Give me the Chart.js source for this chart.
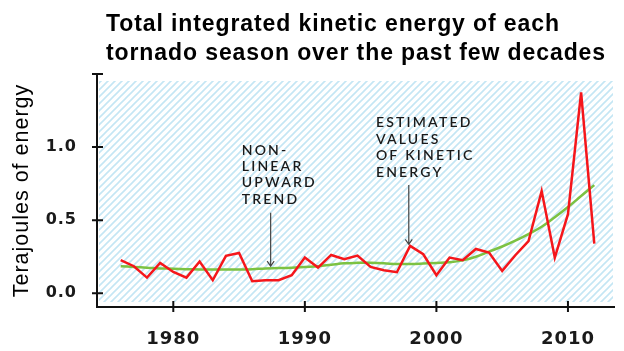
<!DOCTYPE html>
<html>
<head>
<meta charset="utf-8">
<script src="https://cdn.jsdelivr.net/npm/chart.js@4"></script>
<style>
  body { margin: 0; background: #fff; }
</style>
</head>
<body>
<canvas id="chart" width="624" height="351"></canvas>
<script>
const years = [1976, 1977, 1978, 1979, 1980, 1981, 1982, 1983, 1984, 1985, 1986, 1987,
    1988, 1989, 1990, 1991, 1992, 1993, 1994, 1995, 1996, 1997, 1998, 1999, 2000,
    2001, 2002, 2003, 2004, 2005, 2006, 2007, 2008, 2009, 2010, 2011, 2012]
const energy = [0.226, 0.185, 0.107, 0.208, 0.146, 0.107, 0.217, 0.089, 0.256, 0.276,
    0.082, 0.089, 0.089, 0.123, 0.244, 0.176, 0.262, 0.233, 0.258, 0.18, 0.158, 0.144,
    0.324, 0.267, 0.123, 0.244, 0.226, 0.303, 0.279, 0.153, 0.26, 0.356, 0.699, 0.244,
    0.541, 1.375, 0.34]
const trend = [0.185, 0.18, 0.175, 0.17, 0.168, 0.165, 0.163, 0.162, 0.162, 0.163,
    0.165, 0.17, 0.172, 0.175, 0.18, 0.185, 0.195, 0.205, 0.208, 0.208, 0.205, 0.2,
    0.2, 0.203, 0.207, 0.212, 0.225, 0.25, 0.285, 0.32, 0.36, 0.405, 0.455, 0.52,
    0.59, 0.665, 0.74]
const xTicks = [1980, 1990, 2000, 2010]
const yTicks = [0, 0.5, 1.0, 1.5]
const titleLines = ['Total integrated kinetic energy of each',
    'tornado season over the past few decades']
const yTitle = 'Terajoules of energy'

// annotation text: anchor (year, value) of the first line, arrow from/to
const notes = [
    { lines: ['NON-', 'LINEAR', 'UPWARD', 'TREND'], x: 1985.2, y: 0.98, arrowX: 1987.4, arrowFrom: 0.55, arrowTo: 0.185 },
    { lines: ['ESTIMATED', 'VALUES', 'OF KINETIC', 'ENERGY'], x: 1995.4, y: 1.165, arrowX: 1997.9, arrowFrom: 0.74, arrowTo: 0.335 }
]

const RED = '#f5161b'
const GREEN = '#7cc242'
const AXIS = '#111'

function hatchPattern(ctx) {
    const c = document.createElement('canvas');
    c.width = 7; c.height = 7;
    const p = c.getContext('2d');
    p.fillStyle = '#fff';
    p.fillRect(0, 0, 7, 7);
    p.strokeStyle = '#c4e6f4';
    p.lineWidth = 1.6;
    p.beginPath();
    p.moveTo(-1, 8); p.lineTo(8, -1);
    p.moveTo(-4, 4); p.lineTo(4, -4);
    p.moveTo(3, 11); p.lineTo(11, 3);
    p.stroke();
    return ctx.createPattern(c, 'repeat');
}

const backdrop = {
    id: 'backdrop',
    beforeDraw(chart) {
        // wider letter spacing for the axis labels
        chart.ctx.letterSpacing = '1px';
    },
    beforeDatasetsDraw(chart) {
        const { ctx, chartArea: a } = chart;
        ctx.save();
        ctx.fillStyle = hatchPattern(ctx);
        ctx.fillRect(a.left + 2, a.top + 7, a.right - a.left - 3, a.bottom - a.top - 12);
        ctx.restore();
    }
}

const extras = {
    id: 'extras',
    afterDraw(chart) {
        const { ctx, chartArea: a } = chart;
        const xs = chart.scales.x, ys = chart.scales.y;
        ctx.save();

        // tick marks crossing the axes
        ctx.strokeStyle = AXIS;
        ctx.lineWidth = 2;
        ctx.beginPath();
        yTicks.forEach(v => {
            const y = ys.getPixelForValue(v);
            ctx.moveTo(a.left - 5, y); ctx.lineTo(a.left + 6, y);
        });
        xTicks.forEach(v => {
            const x = xs.getPixelForValue(v);
            ctx.moveTo(x, a.bottom - 6); ctx.lineTo(x, a.bottom + 5);
        });
        ctx.stroke();

        // title
        ctx.fillStyle = '#000';
        ctx.font = 'bold 23px "Liberation Sans", Arial, sans-serif';
        ctx.letterSpacing = '0.9px';
        ctx.textBaseline = 'alphabetic';
        ctx.textAlign = 'left';
        titleLines.forEach((t, i) => ctx.fillText(t, 106, 31 + i * 29));

        // annotations
        ctx.font = '600 14px Lato, sans-serif';
        ctx.letterSpacing = '2.2px';
        ctx.textBaseline = 'middle';
        ctx.fillStyle = '#1a1a1a';
        notes.forEach(n => {
            const x0 = xs.getPixelForValue(n.x);
            const y0 = ys.getPixelForValue(n.y);
            n.lines.forEach((t, i) => ctx.fillText(t, x0, y0 + i * 16.4));
            const ax = xs.getPixelForValue(n.arrowX);
            const y1 = ys.getPixelForValue(n.arrowFrom);
            const y2 = ys.getPixelForValue(n.arrowTo);
            ctx.strokeStyle = '#444';
            ctx.lineWidth = 1.2;
            ctx.beginPath();
            ctx.moveTo(ax, y1); ctx.lineTo(ax, y2);
            ctx.moveTo(ax - 3.5, y2 - 5); ctx.lineTo(ax, y2); ctx.lineTo(ax + 3.5, y2 - 5);
            ctx.stroke();
        });
        ctx.restore();
    }
}

const chart = new Chart(document.getElementById('chart'), {
    type: 'line',
    data: {
        labels: years,
        datasets: [{
            label: 'Estimated kinetic energy',
            data: years.map((yr, i) => ({ x: yr, y: energy[i] })),
            borderColor: RED,
            borderWidth: 2.5,
            pointRadius: 0,
            tension: 0
        }, {
            label: 'Trend',
            data: years.map((yr, i) => ({ x: yr, y: trend[i] })),
            borderColor: GREEN,
            borderWidth: 2.5,
            pointRadius: 0,
            tension: 0.4
        }]
    },
    options: {
        responsive: false,
        animation: false,
        layout: { padding: { top: 74, right: 10 } },
        scales: {
            x: {
                type: 'linear',
                min: 1974.2,
                max: 2013.5,
                afterBuildTicks: s => { s.ticks = xTicks.map(v => ({ value: v })) },
                afterFit: s => { s.height = 44 },
                grid: { display: false },
                border: { color: AXIS, width: 2 },
                ticks: {
                    color: '#1a1a1a',
                    font: { family: 'DejaVu Sans', size: 18, weight: 'bold' },
                    padding: 14,
                    maxRotation: 0,
                    callback: v => String(v)
                }
            },
            y: {
                min: -0.094,
                max: 1.5,
                afterBuildTicks: s => { s.ticks = yTicks.map(v => ({ value: v })) },
                afterFit: s => { s.width = 97 },
                grid: { display: false },
                border: { color: AXIS, width: 2 },
                title: {
                    display: true,
                    text: yTitle,
                    color: '#000',
                    font: { family: 'Liberation Sans', size: 21.5 },
                    padding: { top: 9, bottom: 0 }
                },
                ticks: {
                    color: '#1a1a1a',
                    font: { family: 'DejaVu Sans', size: 16, weight: 'bold' },
                    padding: 12,
                    callback: v => v >= 1.5 ? '' : v.toFixed(1)
                }
            }
        },
        plugins: {
            legend: { display: false },
            tooltip: { enabled: false }
        }
    },
    plugins: [backdrop, extras]
});
</script>
</body>
</html>
